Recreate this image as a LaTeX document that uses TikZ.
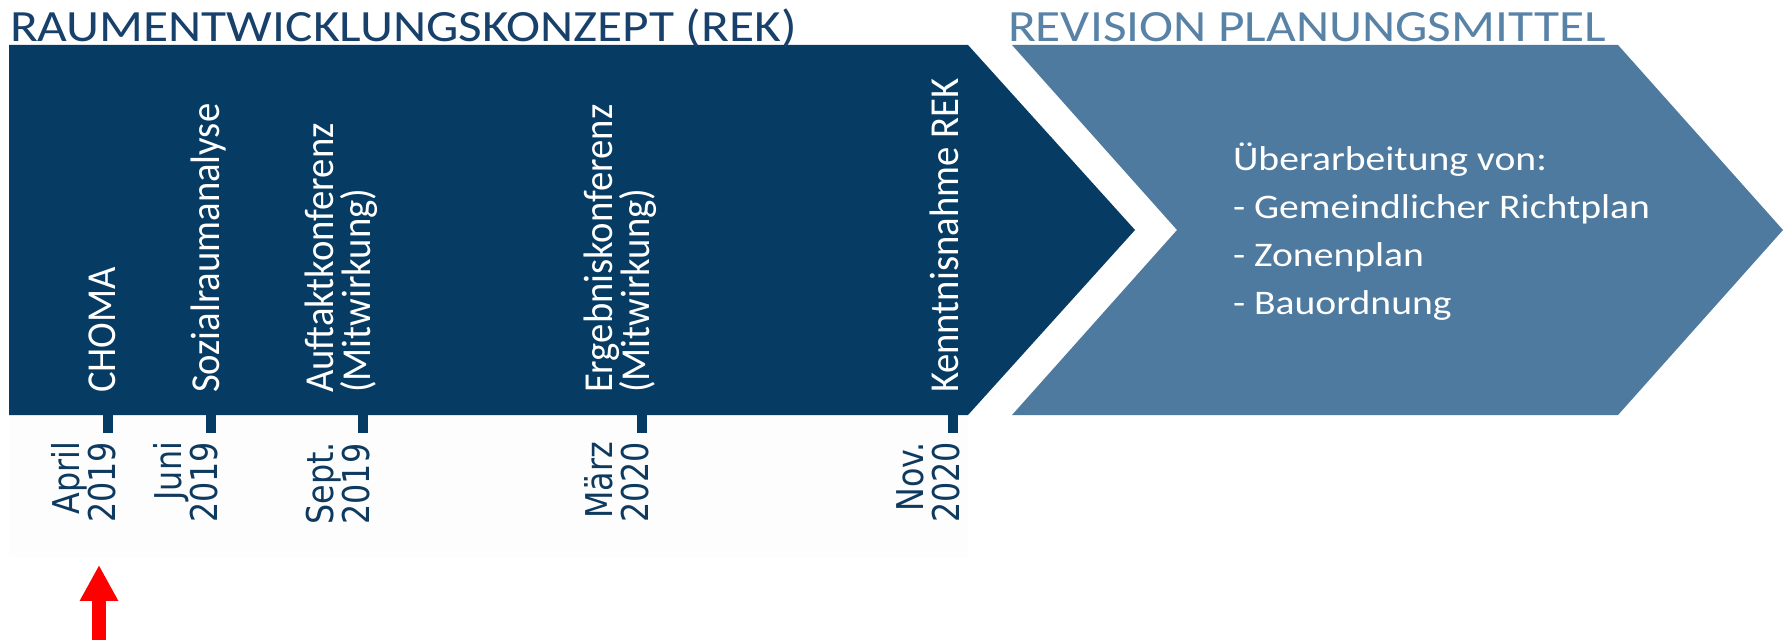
\documentclass[tikz,border=0pt]{standalone}
\usepackage{fontspec}
\usepackage{tikz}
\usetikzlibrary{arrows.meta}

\newfontfamily\carlitowide[FakeStretch=1.15]{Carlito}
\newfontfamily\carlitonarrow[FakeStretch=0.94]{Carlito}
\newfontfamily\dejavunarrow[FakeStretch=0.86]{DejaVu Sans}

\definecolor{reknavy}{HTML}{063B63}
\definecolor{revblue}{HTML}{4E7A9F}
\definecolor{revtitle}{HTML}{5882A6}
\definecolor{rektitle}{HTML}{17406A}
\definecolor{datenavy}{HTML}{0E3A60}

\begin{document}
\begin{tikzpicture}[x=0.01cm, y=-0.01cm,
    every node/.style={inner sep=0pt, outer sep=0pt},
    heading/.style={anchor=base west, font=\carlitowide\fontsize{12.7pt}{15pt}\selectfont},
    phase/.style={rotate=90, anchor=south west, align=left, text=white,
      font=\carlitonarrow\fontsize{11.7pt}{10.7pt}\selectfont},
    when/.style={rotate=90, anchor=south east, align=right, text=datenavy,
      font=\dejavunarrow\fontsize{10.5pt}{10.25pt}\selectfont},
    tickmark/.style={fill=reknavy}]
    \useasboundingbox (0,0) rectangle (1789,640);
    % the two phases
    \fill[black!0.7] (9,415) rectangle (968,557);
    \fill[reknavy] (9,45) -- (968,45) -- (1135,230) -- (968,415) -- (9,415) -- cycle;
    \fill[revblue] (1012,45) -- (1618,45) -- (1783,230) -- (1618,415) -- (1012,415) -- (1177,230) -- cycle;
    \node (H1) at (10,42) [heading, text=rektitle] {RAUMENTWICKLUNGSKONZEPT (REK)};
    \node (H2) at (1008,42) [heading, text=revtitle] {REVISION PLANUNGSMITTEL};
    % ticks
    \fill[tickmark] (103,414) rectangle (113,433);
    \fill[tickmark] (206,414) rectangle (216,433);
    \fill[tickmark] (358,414) rectangle (368,433);
    \fill[tickmark] (637,414) rectangle (647,433);
    \fill[tickmark] (948,414) rectangle (958,433);
    % milestones
    \node (L1) at (116,393) [phase] {CHOMA};
    \node (L2) at (226,393) [phase] {Sozialraumanalyse};
    \node (L3) at (378,393) [phase] {Auftaktkonferenz\\(Mitwirkung)};
    \node (L4) at (657,393) [phase] {Ergebniskonferenz\\(Mitwirkung)};
    \node (L5) at (959,393) [phase] {Kenntnisnahme REK};
    \node (D1) at (116,442) [when] {April\\2019};
    \node (D2) at (218,442) [when] {Juni\\2019};
    \node (D3) at (370,442) [when, align=left] {Sept.\\2019};
    \node (D4) at (649,442) [when] {März\\2020};
    \node (D5) at (960,442) [when] {Nov.\\2020};
    \node (R1) at (1233,143) [anchor=north west, align=left, text=white,
      font=\carlitowide\fontsize{9.8pt}{13.66pt}\selectfont]
      {Überarbeitung von:\\- Gemeindlicher Richtplan\\- Zonenplan\\- Bauordnung};
    % marker
    \coordinate (A0) at (99,640);
    \coordinate (A1) at (99,565);
    \draw[red, line width=3.7pt, -{Triangle[width=10.2pt,length=10.2pt]}] (A0) -- (A1);
\end{tikzpicture}
\end{document}
